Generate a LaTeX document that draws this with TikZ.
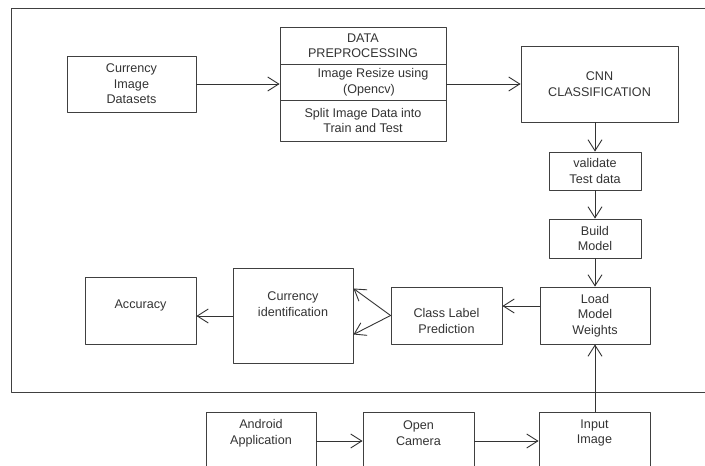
\documentclass[tikz,border=0pt]{standalone}
\usepackage{fontspec}
\setmainfont{Liberation Sans}
\usetikzlibrary{arrows.meta}

\tikzset{
  box/.style 2 args={draw=black!75, line width=0.9pt, minimum width=#1pt, minimum height=#2pt,
    inner sep=0pt, align=center, text=black!80, font=\fontsize{12.6}{15.5}\selectfont},
  txt/.style={align=center, text=black!80, font=\fontsize{12.6}{15.5}\selectfont},
  flow/.style={->, draw=black!80, line width=0.9pt}
}

\begin{document}
\begin{tikzpicture}[line cap=round,line join=round,>={Straight Barb[length=11pt,width=14pt]},x=1pt,y=-1pt]

		\useasboundingbox (0,0) rectangle (705,466);
		\clip (0,0) rectangle (705,466);

		%outer frame
		\draw[draw=black!75, line width=1pt] (11,8) rectangle (730,392);

		%top row
		\node[box={129}{56}] (ds) at (131.5,84) {Currency\\Image\\Datasets};
		\node[box={166}{37}] (dp1) at (363,45.5) {DATA\\PREPROCESSING};
		\node[box={166}{36}] (dp2) at (363,82) {\hspace*{20pt}Image Resize using\\\hspace*{12pt}(Opencv)};
		\node[box={166}{41}] (dp3) at (363,120.5) {Split Image Data into\\Train and Test};
		\node[box={157}{76}] (cnn) at (599.5,84) {CNN\\CLASSIFICATION};

		%right column
		\node[box={92}{38}] (val) at (595,171) {validate\\Test data};
		\node[box={92}{39}] (bld) at (595,238.5) {Build\\Model};
		\node[box={110}{57}] (load) at (595,315.5) {Load\\Model\\Weights};

		%result row
		\node[box={111}{57}] (clp) at (446.5,315.5) {};
		\node[txt] (clpt) at (446.5,321) {Class Label\\Prediction};
		\node[box={120}{95}] (curid) at (293,315.5) {};
		\node[txt] (curidt) at (293,304) {Currency\\identification};
		\node[box={111}{67}] (acc) at (140.5,310.5) {};
		\node[txt] (acct) at (140.5,305) {Accuracy};

		%android side
		\node[box={110}{58}] (app) at (261,441) {};
		\node[txt] (appt) at (261,433) {Android\\Application};
		\node[box={111}{58}] (cam) at (418.5,441) {};
		\node[txt] (camt) at (418.5,433) {Open\\Camera};
		\node[box={111}{58}] (inp) at (594.5,441) {};
		\node[txt] (inpt) at (594.5,433) {Input\\Image};

		%connectors
		\draw[flow] (ds.east) -- (ds.east -| dp2.west);
		\draw[flow] (dp2.east |- cnn.west) -- (cnn.west);
		\draw[flow] (cnn.south -| val.north) -- (val.north);
		\draw[flow] (val) -- (bld);
		\draw[flow] (bld) -- (load);
		\draw[flow] ([yshift=9.5pt]load.west) -- ([yshift=9.5pt]clp.east);
		\draw[flow] (clp.west) -- ([yshift=27pt]curid.east);
		\draw[flow] (clp.west) -- ([yshift=-19pt]curid.east);
		\draw[flow] ([yshift=-0.5pt]curid.west) -- ([yshift=-0.5pt]curid.west -| acc.east);
		\draw[flow] (app) -- (cam);
		\draw[flow] (cam) -- (inp);
		\draw[flow] (inp.north -| load.south) -- (load.south);

	\end{tikzpicture}
\end{document}
